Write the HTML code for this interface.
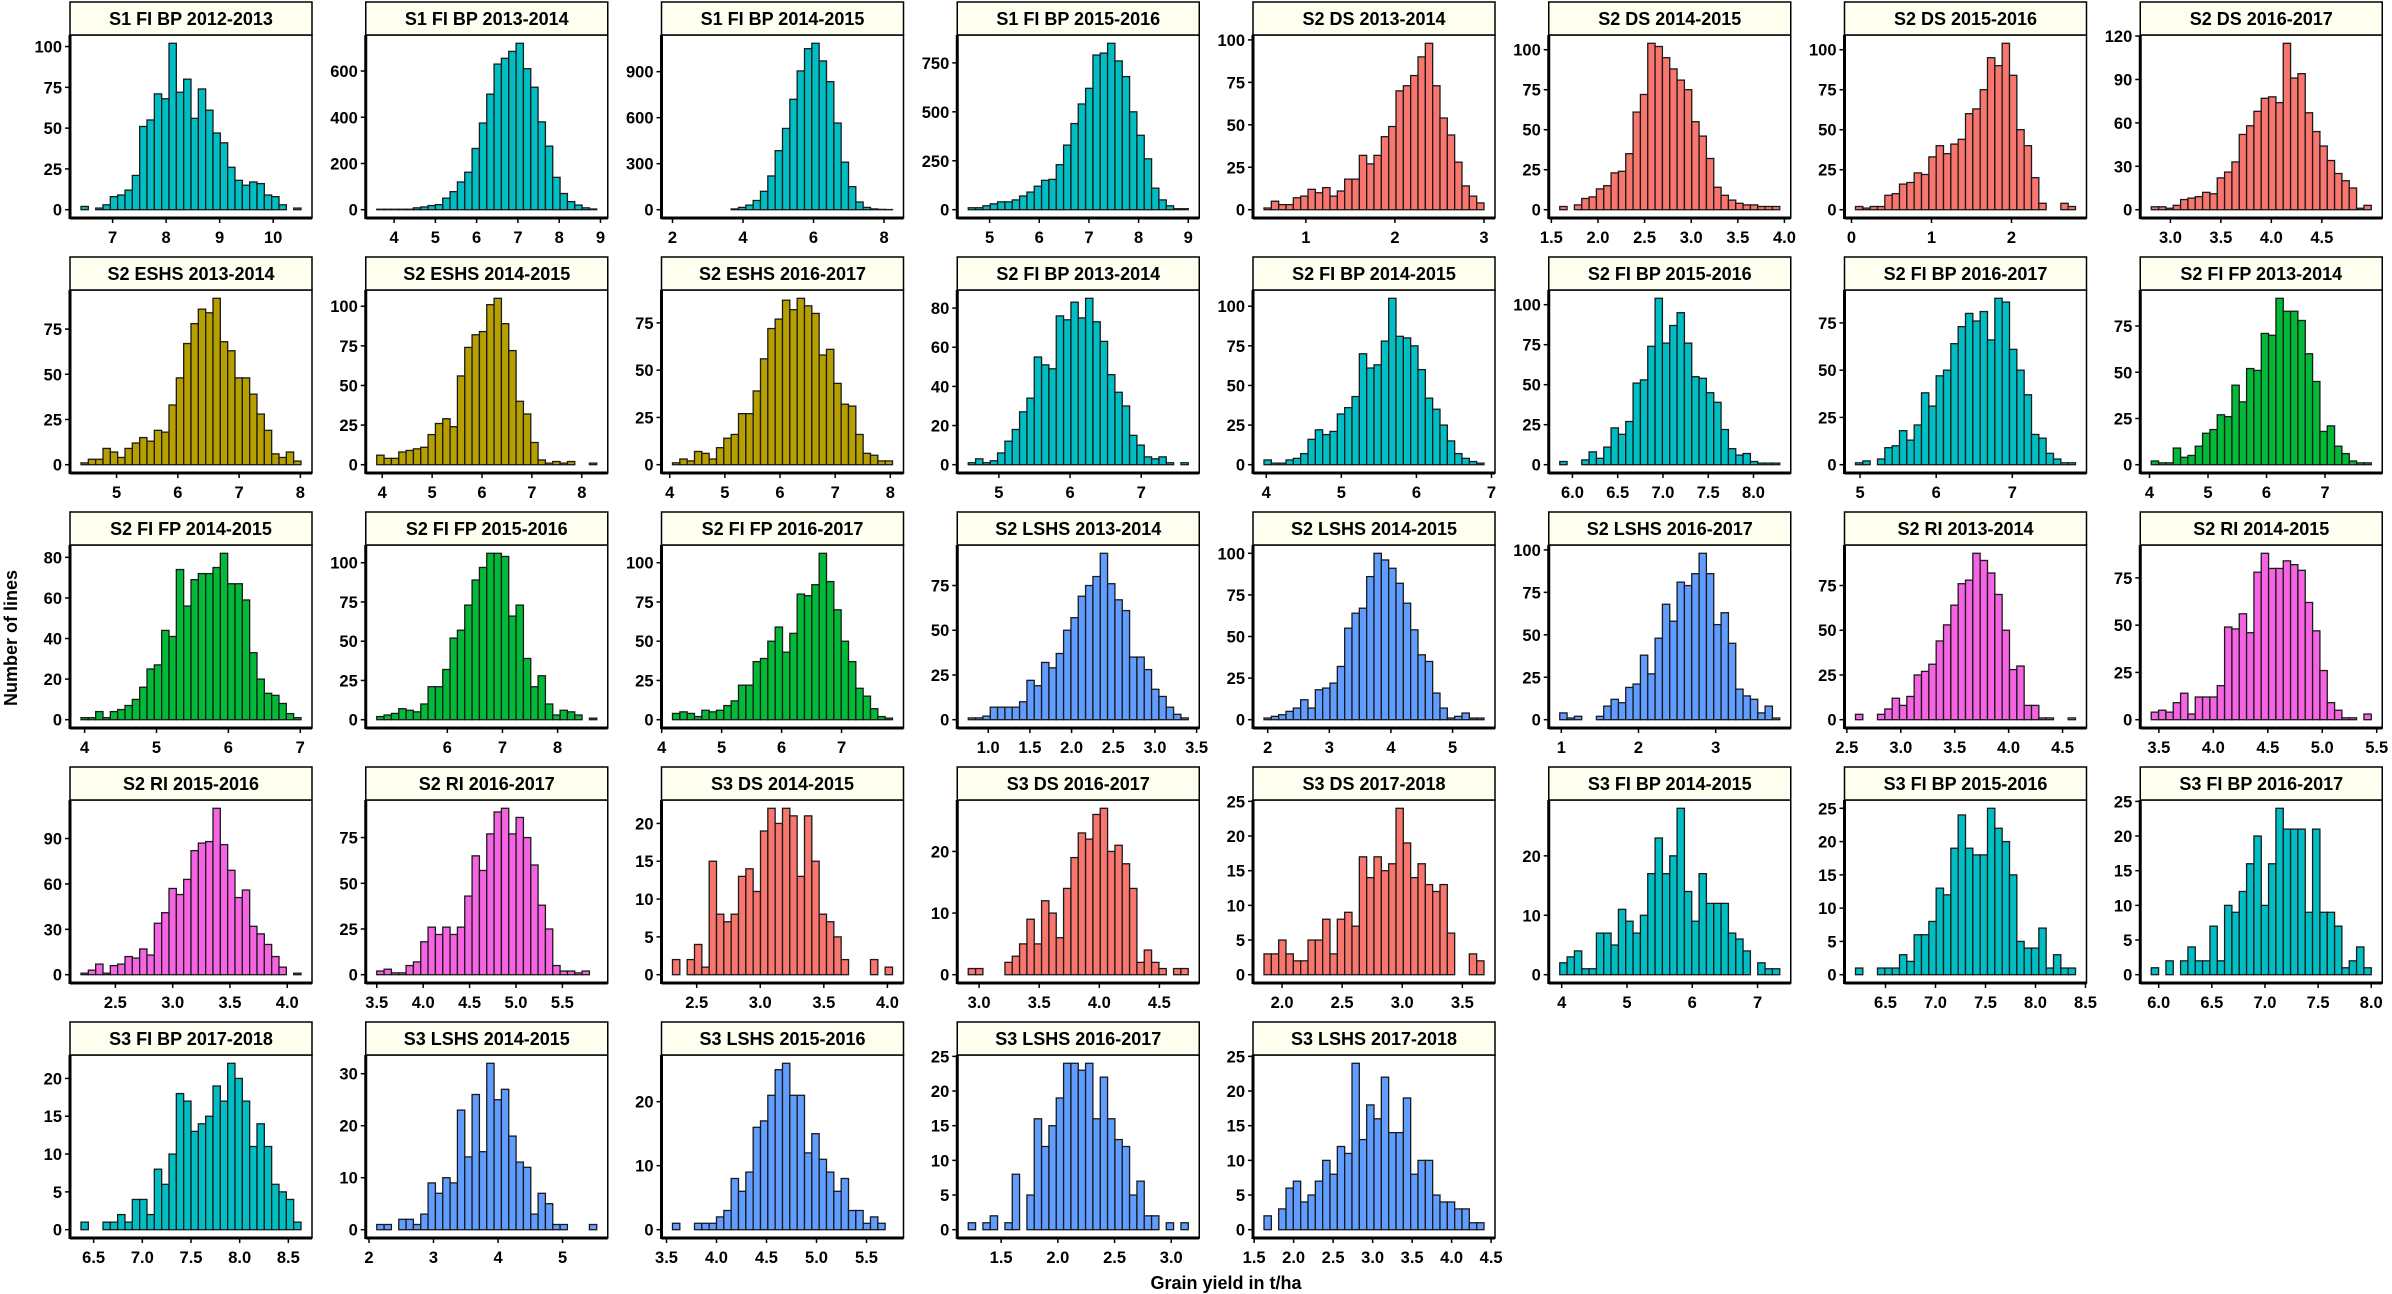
<!DOCTYPE html>
<html><head><meta charset="utf-8"><style>
html,body{margin:0;padding:0;background:#fff;width:2392px;height:1294px;overflow:hidden}
svg{display:block}
text{font-family:"Liberation Sans",Arial,sans-serif;font-weight:bold;fill:#000}
</style></head><body>
<svg id="s" width="2392" height="1294" viewBox="0 0 2392 1294" xmlns="http://www.w3.org/2000/svg">
<text x="1226" y="1289" font-size="18" text-anchor="middle">Grain yield in t/ha</text>
<text transform="translate(17,638) rotate(-90)" font-size="18" text-anchor="middle">Number of lines</text>
</svg>
<script>
const C={t:"#00BFC4",r:"#F8766D",o:"#B79F00",g:"#00BA38",b:"#619CFF",p:"#F564E3"};
const P=[
["S1 FI BP 2012-2013","t",6.41,10.52,[7,8,9,10],[0,25,50,75,100],[2,0,1,3,8,9,12,21,51,55,71,68,102,72,80,56,74,61,47,41,26,18,15,17,16,9,8,3,0,1]],
["S1 FI BP 2013-2014","t",3.58,8.91,[4,5,6,7,8,9],[0,200,400,600],[2,2,2,2,2,8,12,18,22,50,78,120,162,265,375,500,630,655,685,720,610,530,380,275,140,70,35,20,8,3]],
["S1 FI BP 2014-2015","t",2.0,8.24,[2,4,6,8],[0,300,600,900],[0,0,0,0,0,0,0,0,5,15,30,60,120,220,385,530,720,905,1050,1085,970,835,565,310,150,50,15,5,2,1]],
["S1 FI BP 2015-2016","t",4.57,9.0,[5,6,7,8,9],[0,250,500,750],[10,10,20,30,40,40,50,70,90,120,150,155,230,330,440,540,620,790,800,850,760,680,500,380,260,110,50,20,5,5]],
["S2 DS 2013-2014","r",0.53,3.0,[1,2,3],[0,25,50,75,100],[1,5,3,3,7,8,12,10,13,8,11,18,18,32,27,32,43,49,70,73,79,90,98,73,54,44,28,14,8,4]],
["S2 DS 2014-2015","r",1.59,3.95,["1.5","2.0","2.5","3.0","3.5","4.0"],[0,25,50,75,100],[2,0,3,7,8,13,15,23,24,35,61,72,104,102,95,88,81,75,55,46,32,14,9,6,4,3,3,2,2,2]],
["S2 DS 2015-2016","r",0.05,2.8,[0,1,2],[0,25,50,75,100],[2,1,2,2,9,10,16,17,23,22,33,40,35,41,44,60,63,75,95,90,104,84,50,40,20,4,0,0,4,2]],
["S2 DS 2016-2017","r",2.81,4.99,["3.0","3.5","4.0","4.5"],[0,30,60,90,120],[2,2,1,3,7,8,9,12,11,22,26,33,52,58,68,77,78,74,115,91,94,67,54,44,34,25,20,15,1,3]],
["S2 ESHS 2013-2014","o",4.42,8.01,[5,6,7,8],[0,25,50,75],[1,3,3,9,7,4,9,12,15,13,19,18,33,48,67,78,86,84,92,68,63,48,48,39,28,19,6,4,7,2]],
["S2 ESHS 2014-2015","o",3.89,8.3,[4,5,6,7,8],[0,25,50,75,100],[6,4,4,8,9,10,11,19,26,29,24,56,74,82,84,101,105,89,72,40,32,14,3,1,2,1,2,0,0,1]],
["S2 ESHS 2016-2017","o",4.05,8.04,[4,5,6,7,8],[0,25,50,75],[1,3,2,7,6,3,9,14,16,27,27,39,56,72,77,87,82,88,84,80,58,61,43,32,31,16,6,5,2,2]],
["S2 FI BP 2013-2014","t",4.57,7.66,[5,6,7],[0,20,40,60,80],[1,3,1,2,6,12,18,27,34,55,51,49,76,74,83,75,85,73,63,46,37,30,15,10,4,3,4,1,0,1]],
["S2 FI BP 2014-2015","t",3.97,6.9,[4,5,6,7],[0,25,50,75,100],[3,1,1,3,4,7,16,22,19,21,32,36,43,70,61,63,78,105,81,80,75,60,42,35,25,15,7,4,2,1]],
["S2 FI BP 2015-2016","t",5.86,8.29,["6.0","6.5","7.0","7.5","8.0"],[0,25,50,75,100],[2,0,0,3,8,4,11,23,19,27,51,53,74,104,76,87,95,76,55,54,45,39,22,10,6,7,2,1,1,1]],
["S2 FI BP 2016-2017","t",4.94,7.83,[5,6,7],[0,25,50,75],[1,2,0,3,9,10,18,13,21,38,31,47,50,64,73,80,76,81,66,88,86,61,50,37,16,14,6,3,1,1]],
["S2 FI FP 2013-2014","g",4.03,7.79,[4,5,6,7],[0,25,50,75],[2,1,1,9,4,5,10,17,19,27,26,43,34,52,51,71,70,90,83,83,78,60,45,18,21,10,6,2,1,1]],
["S2 FI FP 2014-2015","g",3.95,7.01,[4,5,6,7],[0,20,40,60,80],[1,1,4,1,4,5,7,10,16,25,27,44,41,74,56,69,72,72,75,82,67,67,59,33,20,13,12,8,3,1]],
["S2 FI FP 2015-2016","g",4.72,8.71,[6,7,8],[0,25,50,75,100],[2,3,4,7,6,5,10,21,21,32,52,57,73,89,97,106,106,104,66,73,39,21,28,10,3,6,5,3,0,1]],
["S2 FI FP 2016-2017","g",4.18,7.85,[4,5,6,7],[0,25,50,75,100],[4,5,4,2,6,5,6,9,12,22,22,37,39,50,59,43,55,80,79,86,106,88,70,50,37,20,15,7,2,1]],
["S2 LSHS 2013-2014","b",0.76,3.4,["1.0","1.5","2.0","2.5","3.0","3.5"],[0,25,50,75],[1,1,2,7,7,7,7,10,22,19,32,29,37,50,57,69,75,80,93,76,67,61,35,35,28,17,13,7,3,1]],
["S2 LSHS 2014-2015","b",1.94,5.51,[2,3,4,5],[0,25,50,75,100],[1,2,3,5,7,12,7,18,19,22,32,55,64,67,86,100,96,91,82,70,54,39,35,16,7,1,2,4,1,1]],
["S2 LSHS 2016-2017","b",0.98,3.83,[1,2,3],[0,25,50,75,100],[4,1,2,0,0,2,8,12,10,19,21,38,27,48,68,58,81,79,86,98,86,56,63,45,18,14,12,4,8,1]],
["S2 RI 2013-2014","p",2.58,4.62,["2.5","3.0","3.5","4.0","4.5"],[0,25,50,75],[3,0,0,3,6,12,8,13,25,27,31,44,53,64,76,78,93,89,82,70,50,28,30,8,8,1,1,0,0,1]],
["S2 RI 2014-2015","p",3.43,5.45,["3.5","4.0","4.5","5.0","5.5"],[0,25,50,75],[4,5,4,9,14,3,12,12,12,18,49,48,56,46,78,88,80,80,84,82,79,62,47,26,9,5,1,1,0,3]],
["S2 RI 2015-2016","p",2.2,4.12,["2.5","3.0","3.5","4.0"],[0,30,60,90],[1,3,7,1,6,7,12,11,17,13,34,41,57,53,63,82,87,88,110,86,69,51,56,32,27,20,12,5,0,1]],
["S2 RI 2016-2017","p",3.5,5.87,["3.5","4.0","4.5","5.0","5.5"],[0,25,50,75],[2,3,1,1,5,7,18,26,22,26,22,26,43,65,57,77,89,91,77,86,75,60,38,25,5,2,2,1,2,0]],
["S3 DS 2014-2015","r",2.31,4.04,["2.5","3.0","3.5","4.0"],[0,5,10,15,20],[2,0,2,4,1,15,8,7,8,13,14,11,19,22,20,22,21,13,21,15,8,7,5,2,0,0,0,2,0,1]],
["S3 DS 2016-2017","r",2.91,4.74,["3.0","3.5","4.0","4.5"],[0,10,20],[1,1,0,0,0,2,3,5,9,5,12,10,6,14,19,23,22,26,27,20,21,18,14,2,4,2,1,0,1,1]],
["S3 DS 2017-2018","r",1.85,3.68,["2.0","2.5","3.0","3.5"],[0,5,10,15,20,25],[3,3,5,3,2,2,5,5,8,3,8,9,7,17,14,17,15,16,24,19,14,16,13,12,13,6,0,0,3,2]],
["S3 FI BP 2014-2015","t",3.97,7.34,[4,5,6,7],[0,10,20],[2,3,4,1,1,7,7,5,11,9,7,10,17,23,17,20,28,14,9,17,12,12,12,7,6,4,0,2,1,1]],
["S3 FI BP 2015-2016","t",6.2,8.4,["6.5","7.0","7.5","8.0","8.5"],[0,5,10,15,20,25],[1,0,0,1,1,1,3,2,6,6,8,13,12,19,24,19,18,18,25,22,20,15,5,4,4,7,1,3,1,1]],
["S3 FI BP 2016-2017","t",5.93,8.0,["6.0","6.5","7.0","7.5","8.0"],[0,5,10,15,20,25],[1,0,2,0,2,4,2,2,7,2,10,9,12,16,20,10,16,24,21,21,21,9,21,9,9,7,1,2,4,1]],
["S3 FI BP 2017-2018","t",6.37,8.63,["6.5","7.0","7.5","8.0","8.5"],[0,5,10,15,20],[1,0,0,1,1,2,1,4,4,2,8,6,10,18,17,13,14,15,19,17,22,20,17,11,14,11,6,5,4,1]],
["S3 LSHS 2014-2015","b",2.12,5.53,[2,3,4,5],[0,10,20,30],[1,1,0,2,2,1,3,9,7,10,9,23,14,26,15,32,25,27,18,13,12,3,7,5,1,1,0,0,0,1]],
["S3 LSHS 2015-2016","b",3.56,5.76,["3.5","4.0","4.5","5.0","5.5"],[0,10,20],[1,0,0,1,1,1,2,3,8,6,9,16,17,21,25,26,21,21,12,15,11,9,6,8,3,3,1,2,1,0]],
["S3 LSHS 2016-2017","b",1.21,3.15,["1.5","2.0","2.5","3.0"],[0,5,10,15,20,25],[1,0,1,2,0,1,8,0,5,16,12,15,19,24,24,23,24,16,22,16,13,12,5,7,2,2,0,1,0,1]],
["S3 LSHS 2017-2018","b",1.625,4.41,["1.5","2.0","2.5","3.0","3.5","4.0","4.5"],[0,5,10,15,20,25],[2,0,3,6,7,4,5,7,10,8,12,11,24,13,18,16,22,14,14,19,8,10,10,5,4,4,3,3,1,1]]
];
let h="";
P.forEach((p,i)=>{
 const [title,col,x0,x1,xt,yt,H]=p;
 const c=i%8,r=Math.floor(i/8);
 const L=70+c*295.75,T=2+r*255,W=242;
 const pb=T+216,pt=T+33;
 const ymax=Math.max(...H);
 const y0=pb-8.3, sy=166.4/ymax;
 const bx0=L+11,bw=220/H.length;
 const fx=v=>bx0+(v-x0)/(x1-x0)*220;
 h+=`<rect x="${L}" y="${pt}" width="${W}" height="${pb-pt}" fill="#fff"/>`;
 H.forEach((v,k)=>{
  const hh=v*sy;
  h+=`<rect x="${(bx0+k*bw).toFixed(2)}" y="${(y0-hh).toFixed(2)}" width="${bw.toFixed(2)}" height="${hh.toFixed(2)}" fill="${C[col]}" stroke="#1a1a1a" stroke-width="1.3"/>`;
 });
 h+=`<rect x="${L}" y="${pt}" width="${W}" height="${pb-pt}" fill="none" stroke="#000" stroke-width="1.5"/>`;
 h+=`<line x1="${L}" y1="${pt}" x2="${L}" y2="${pb+1}" stroke="#000" stroke-width="3"/>`;
 h+=`<line x1="${L}" y1="${pb}" x2="${L+W}" y2="${pb}" stroke="#000" stroke-width="3"/>`;
 h+=`<rect x="${L}" y="${T}" width="${W}" height="33" fill="#FFFFF0" stroke="#000" stroke-width="1.5"/>`;
 h+=`<text x="${L+W/2}" y="${T+23}" font-size="18" text-anchor="middle">${title}</text>`;
 yt.forEach(v=>{const y=y0-v*sy;
  h+=`<line x1="${L-5}" y1="${y}" x2="${L}" y2="${y}" stroke="#000" stroke-width="1.5"/>`;
  h+=`<text x="${L-8}" y="${y+6}" font-size="16.5" text-anchor="end">${v}</text>`;});
 xt.forEach(v=>{const x=fx(parseFloat(v));
  h+=`<line x1="${x}" y1="${pb}" x2="${x}" y2="${pb+5}" stroke="#000" stroke-width="1.5"/>`;
  h+=`<text x="${x}" y="${T+241}" font-size="16.5" text-anchor="middle">${v}</text>`;});
});
document.getElementById("s").insertAdjacentHTML("beforeend",h);
</script>
</body></html>
